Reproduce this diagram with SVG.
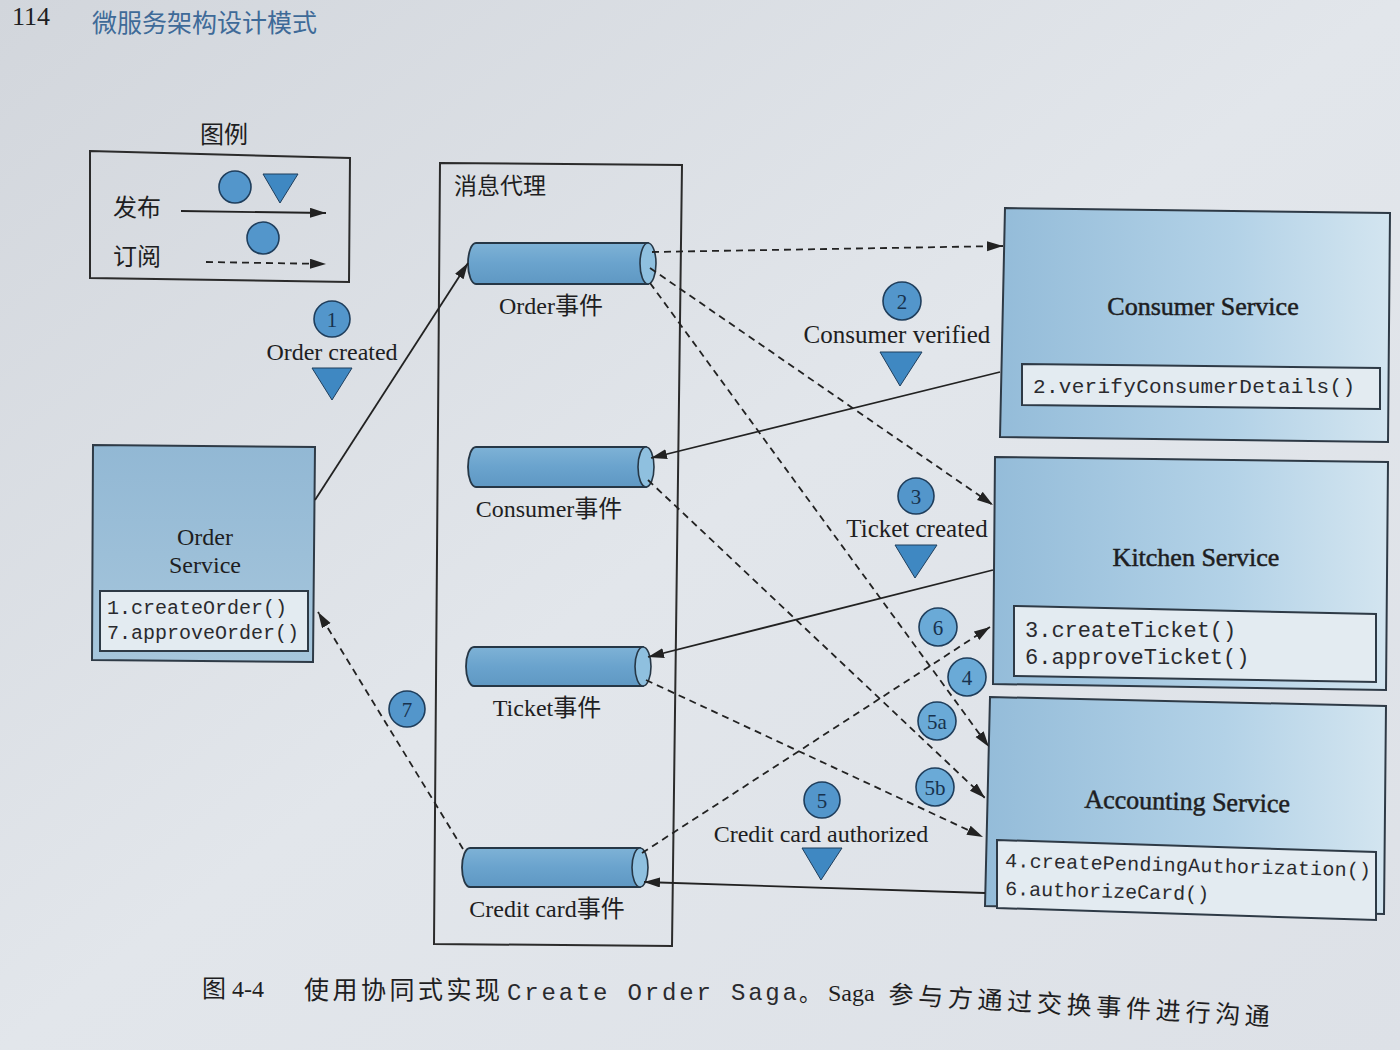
<svg xmlns="http://www.w3.org/2000/svg" width="1400" height="1050" viewBox="0 0 1400 1050">
<defs>
<linearGradient id="page" x1="0" y1="0" x2="1" y2="1">
<stop offset="0" stop-color="#d2d6dc"/>
<stop offset="0.5" stop-color="#e2e6eb"/>
<stop offset="1" stop-color="#dde1e7"/>
</linearGradient>
<linearGradient id="svc" x1="0" y1="0" x2="1" y2="0">
<stop offset="0" stop-color="#94bcd9"/>
<stop offset="0.6" stop-color="#b3d2e7"/>
<stop offset="1" stop-color="#d3e5f0"/>
</linearGradient>
<linearGradient id="osvc" x1="0" y1="0" x2="0" y2="1">
<stop offset="0" stop-color="#92b8d4"/>
<stop offset="1" stop-color="#a6c6dc"/>
</linearGradient>
<linearGradient id="cyl" x1="0" y1="0" x2="0" y2="1">
<stop offset="0" stop-color="#7eb2d6"/>
<stop offset="0.5" stop-color="#6aa3cd"/>
<stop offset="1" stop-color="#5f98c3"/>
</linearGradient>
<marker id="ah" markerUnits="userSpaceOnUse" markerWidth="18" markerHeight="12" refX="16" refY="5" orient="auto">
<path d="M0,0 L16,5 L0,10 z" fill="#222"/>
</marker>
<style>
.t{font-family:"Liberation Serif","Noto Sans CJK SC",serif;fill:#1e1e22}
.ttl{stroke:#1e1e22;stroke-width:0.5}
.cj{font-family:"Noto Sans CJK SC","Liberation Serif",sans-serif;fill:#1e1e22}
.mono{font-family:"Liberation Mono",monospace;fill:#2a2a2e}
.box{stroke:#2e3a46;stroke-width:2}
.mbox{fill:#e3ebf1;stroke:#2e3a46;stroke-width:2}
.solid{stroke:#222;stroke-width:1.8;fill:none}
.dash{stroke:#222;stroke-width:1.8;fill:none;stroke-dasharray:7 5}
.num{fill:#5396cb;stroke:#1f3e5c;stroke-width:1.6}
.numl{fill:#6aaad7;stroke:#1f3e5c;stroke-width:1.6}
.ntx{font-family:"Liberation Serif",serif;font-size:21px;fill:#17324e;text-anchor:middle}
.tri{fill:#3f88c2;stroke:#1f3e5c;stroke-width:1}
.cylb{fill:url(#cyl);stroke:#263746;stroke-width:1.8}
.cyle{fill:#8fc0df;stroke:#263746;stroke-width:1.6}
</style>
</defs>

<rect width="1400" height="1050" fill="url(#page)"/>

<!-- header -->
<text x="12" y="25" class="t" font-size="26">114</text>
<text x="92" y="32" class="cj" font-size="25" style="fill:#3e6a98">微服务架构设计模式</text>

<!-- legend -->
<g id="legend">
<text x="200" y="143" class="cj" font-size="24">图例</text>
<path d="M90,151 L350,158 L349,282 L90,278 Z" fill="none" stroke="#2b2b2b" stroke-width="2"/>
<text x="113" y="216" class="cj" font-size="24">发布</text>
<text x="113" y="265" class="cj" font-size="24">订阅</text>
<circle cx="235" cy="187" r="16" class="num"/>
<path d="M263,174 L298,174 L280,203 Z" class="tri"/>
<line x1="181" y1="211" x2="326" y2="213" class="solid" marker-end="url(#ah)"/>
<circle cx="263" cy="238" r="16" class="num"/>
<line x1="206" y1="262" x2="326" y2="264" class="dash" marker-end="url(#ah)"/>
</g>

<!-- message broker -->
<g id="broker">
<path d="M440,163 L682,165 L672,946 L434,944 Z" fill="none" stroke="#2b2b2b" stroke-width="2"/>
<text x="454" y="194" class="cj" font-size="23">消息代理</text>
</g>

<g id="order-events">
<path d="M476,243 L648,243 L648,284 L476,284 A8,20.5 0 0 1 476,243 Z" class="cylb"/>
<ellipse cx="648" cy="263.5" rx="8" ry="20.5" class="cyle"/>
<text x="551" y="314" class="t" font-size="24" text-anchor="middle">Order事件</text>
</g>
<g id="consumer-events">
<path d="M476,447 L646,447 L646,487 L476,487 A8,20 0 0 1 476,447 Z" class="cylb"/>
<ellipse cx="646" cy="467" rx="8" ry="20" class="cyle"/>
<text x="549" y="517" class="t" font-size="24" text-anchor="middle">Consumer事件</text>
</g>
<g id="ticket-events">
<path d="M474,647 L643,647 L643,686 L474,686 A8,19.5 0 0 1 474,647 Z" class="cylb"/>
<ellipse cx="643" cy="666.5" rx="8" ry="19.5" class="cyle"/>
<text x="547" y="716" class="t" font-size="24" text-anchor="middle">Ticket事件</text>
</g>
<g id="credit-events">
<path d="M470,848 L640,848 L640,887 L470,887 A8,19.5 0 0 1 470,848 Z" class="cylb"/>
<ellipse cx="640" cy="867.5" rx="8" ry="19.5" class="cyle"/>
<text x="547" y="917" class="t" font-size="24" text-anchor="middle">Credit card事件</text>
</g>

<!-- services -->
<g id="order-service">
<path d="M93,445 L315,447 L313,662 L92,660 Z" fill="url(#osvc)" class="box"/>
<text x="205" y="545" class="t" font-size="24" text-anchor="middle">Order</text>
<text x="205" y="573" class="t" font-size="24" text-anchor="middle">Service</text>
<rect x="100" y="591" width="208" height="60" class="mbox"/>
<text x="107" y="614" class="mono" font-size="20">1.createOrder()</text>
<text x="107" y="639" class="mono" font-size="20">7.approveOrder()</text>
</g>

<g id="consumer-service">
<path d="M1005,208 L1390,213 L1388,442 L1000,437 Z" fill="url(#svc)" class="box"/>
<text x="1203" y="315" class="t ttl" font-size="26" text-anchor="middle">Consumer Service</text>
<path d="M1022,364 L1380,368 L1380,409 L1022,405 Z" class="mbox"/>
<text x="1033" y="393" class="mono" font-size="21" textLength="322">2.verifyConsumerDetails()</text>
</g>

<g id="kitchen-service">
<path d="M995,457 L1388,462 L1386,690 L993,684 Z" fill="url(#svc)" class="box"/>
<text x="1196" y="566" class="t ttl" font-size="26" text-anchor="middle">Kitchen Service</text>
<path d="M1014,606 L1376,614 L1376,682 L1014,676 Z" class="mbox"/>
<text x="1025" y="637" class="mono" font-size="22">3.createTicket()</text>
<text x="1025" y="664" class="mono" font-size="22">6.approveTicket()</text>
</g>

<g id="accounting-service">
<path d="M990,697 L1386,706 L1384,914 L985,906 Z" fill="url(#svc)" class="box"/>
<text x="1187" y="810" class="t ttl" font-size="26" text-anchor="middle" transform="rotate(1.3 1187 810)">Accounting Service</text>
<path d="M997,840 L1376,852 L1376,920 L997,908 Z" class="mbox"/>
<text x="1005" y="867" class="mono" font-size="20" textLength="366" transform="rotate(1.5 1005 867)">4.createPendingAuthorization()</text>
<text x="1005" y="895" class="mono" font-size="20" transform="rotate(1.5 1005 895)">6.authorizeCard()</text>
</g>

<!-- connectors -->
<g id="connectors">
<line x1="315" y1="500" x2="468" y2="263" class="solid" marker-end="url(#ah)"/>
<line x1="652" y1="252" x2="1003" y2="246" class="dash" marker-end="url(#ah)"/>
<line x1="650" y1="268" x2="993" y2="505" class="dash" marker-end="url(#ah)"/>
<line x1="650" y1="283" x2="989" y2="747" class="dash" marker-end="url(#ah)"/>
<line x1="1000" y1="372" x2="651" y2="458" class="solid" marker-end="url(#ah)"/>
<line x1="648" y1="480" x2="985" y2="798" class="dash" marker-end="url(#ah)"/>
<line x1="993" y1="570" x2="648" y2="657" class="solid" marker-end="url(#ah)"/>
<line x1="646" y1="680" x2="983" y2="837" class="dash" marker-end="url(#ah)"/>
<line x1="642" y1="853" x2="990" y2="627" class="dash" marker-end="url(#ah)"/>
<line x1="985" y1="893" x2="644" y2="882" class="solid" marker-end="url(#ah)"/>
<line x1="463" y1="849" x2="318" y2="612" class="dash" marker-end="url(#ah)"/>
</g>

<!-- event labels -->
<g id="lbl-1">
<circle cx="332" cy="319" r="18" class="num"/>
<text x="332" y="327" class="ntx">1</text>
<text x="332" y="360" class="t" font-size="24" text-anchor="middle">Order created</text>
<path d="M312,368 L352,368 L332,400 Z" class="tri"/>
</g>
<g id="lbl-2">
<circle cx="902" cy="301" r="19" class="num"/>
<text x="902" y="309" class="ntx">2</text>
<text x="897" y="343" class="t" font-size="25" text-anchor="middle">Consumer verified</text>
<path d="M880,352 L922,352 L900,386 Z" class="tri"/>
</g>
<g id="lbl-3">
<circle cx="916" cy="496" r="18" class="num"/>
<text x="916" y="504" class="ntx">3</text>
<text x="917" y="537" class="t" font-size="25" text-anchor="middle">Ticket created</text>
<path d="M895,545 L937,545 L915,578 Z" class="tri"/>
</g>
<g id="lbl-5">
<circle cx="822" cy="800" r="18" class="num"/>
<text x="822" y="808" class="ntx">5</text>
<text x="821" y="842" class="t" font-size="24" text-anchor="middle">Credit card authorized</text>
<path d="M802,848 L842,848 L821,880 Z" class="tri"/>
</g>
<g id="lbl-6">
<circle cx="938" cy="627" r="19" class="numl"/>
<text x="938" y="635" class="ntx">6</text>
</g>
<g id="lbl-4">
<circle cx="967" cy="677" r="19" class="numl"/>
<text x="967" y="685" class="ntx">4</text>
</g>
<g id="lbl-5a">
<circle cx="937" cy="721" r="19" class="numl"/>
<text x="937" y="729" class="ntx">5a</text>
</g>
<g id="lbl-5b">
<circle cx="935" cy="787" r="19" class="numl"/>
<text x="935" y="795" class="ntx">5b</text>
</g>
<g id="lbl-7">
<circle cx="407" cy="709" r="18" class="num"/>
<text x="407" y="717" class="ntx">7</text>
</g>

<!-- caption -->
<g id="caption">
<text x="202" y="997" class="t" font-size="24">图 4-4</text>
<text x="304" y="999" class="cj" font-size="25" textLength="196">使用协同式实现</text>
<text x="507" y="1000" class="mono" font-size="24" textLength="290">Create Order Saga</text>
<text x="799" y="1001" class="cj" font-size="22">。</text>
<text x="828" y="1001" class="t" font-size="24">Saga</text>
<text x="888" y="1003" class="cj" font-size="25" textLength="382" transform="rotate(3.4 888 1003)">参与方通过交换事件进行沟通</text>
</g>
</svg>
